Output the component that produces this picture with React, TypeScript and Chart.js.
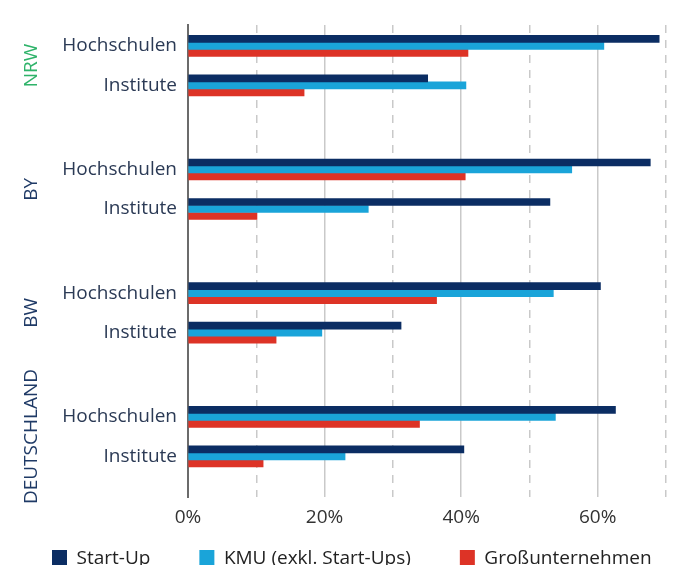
import React, { useEffect, useRef } from "react";
import { Chart, registerables } from "chart.js";

Chart.register(...registerables);

const groups = ["NRW", "BY", "BW", "DEUTSCHLAND"];
const subCategories = ["Hochschulen", "Institute"];
const seriesNames = ["Start-Up", "KMU (exkl. Start-Ups)", "Großunternehmen"];

// values per group: [Hochschulen, Institute]
const startUp = [69.0, 35.1, 67.7, 53.0, 60.4, 31.2, 62.6, 40.4];
const kmu = [60.9, 40.7, 56.2, 26.4, 53.5, 19.6, 53.8, 23.0];
const grossunternehmen = [41.0, 17.0, 40.6, 10.1, 36.4, 12.9, 33.9, 11.0];

const xTicks = [0, 10, 20, 30, 40, 50, 60, 70];

const GROUP_SPAN = 3.13;
const FONT = "'Open Sans', sans-serif";
const TEXT = "#2b3a55";
const seriesColors = ["#0b2d63", "#1aa4d9", "#dd3326"];
const groupColors = ["#2fb36a", "#1f3a66", "#1f3a66", "#1f3a66"];

function rowPos(i: number) {
  const g = Math.floor(i / subCategories.length);
  const s = i % subCategories.length;
  return g * GROUP_SPAN + s;
}

const rowLabels = groups.flatMap(() => subCategories);

const groupLabelPlugin = {
  id: "groupLabels",
  afterDraw(chart: any) {
    const { ctx, scales } = chart;
    const y = scales.y;
    ctx.save();
    ctx.font = `19px ${FONT}`;
    ctx.textAlign = "center";
    ctx.textBaseline = "middle";
    groups.forEach((g, gi) => {
      const p0 = y.getPixelForValue(rowPos(gi * 2));
      const p1 = y.getPixelForValue(rowPos(gi * 2 + 1));
      const cy = (p0 + p1) / 2;
      ctx.save();
      ctx.translate(24, cy);
      ctx.rotate(-Math.PI / 2);
      ctx.fillStyle = groupColors[gi];
      ctx.fillText(g, 0, 0);
      ctx.restore();
    });
    ctx.restore();
  },
};

const legendPlugin = {
  id: "customLegend",
  afterDraw(chart: any) {
    const { ctx } = chart;
    ctx.save();
    ctx.font = `19px ${FONT}`;
    ctx.textAlign = "left";
    ctx.textBaseline = "middle";
    const cy = 549.5;
    let x = 44;
    chart.data.datasets.forEach((ds: any) => {
      ctx.fillStyle = ds.backgroundColor;
      ctx.fillRect(x, cy - 7.5, 15, 15);
      ctx.fillStyle = "#222";
      ctx.fillText(ds.label, x + 24.5, cy + 1);
      x += 24.5 + ctx.measureText(ds.label).width + 49;
    });
    ctx.restore();
  },
};

export default function App() {
  const ref = useRef<HTMLCanvasElement | null>(null);
  useEffect(() => {
    const toPts = (arr: number[]) => arr.map((v, i) => ({ x: v, y: rowPos(i) }));
    const chart = new Chart(ref.current!, {
      type: "bar",
      data: {
        datasets: [
          { label: seriesNames[0], data: toPts(startUp), backgroundColor: seriesColors[0] },
          { label: seriesNames[1], data: toPts(kmu), backgroundColor: seriesColors[1] },
          { label: seriesNames[2], data: toPts(grossunternehmen), backgroundColor: seriesColors[2] },
        ] as any,
      },
      options: {
        indexAxis: "y",
        animation: false,
        responsive: true,
        maintainAspectRatio: false,
        datasets: { bar: { barThickness: 7, grouped: true } } as any,
        layout: { padding: { top: 17, right: 4, left: 0, bottom: 38 } },
        plugins: {
          legend: { display: false },
          tooltip: { enabled: false },
        },
        scales: {
          x: {
            type: "linear",
            min: 0,
            max: 70,
            afterBuildTicks: (s: any) => {
              s.ticks = xTicks.map((v) => ({ value: v }));
            },
            ticks: {
              color: "#333",
              padding: 9,
              maxRotation: 0,
              font: { family: FONT, size: 19 },
              callback: (v: any) => (Number(v) % 20 === 0 ? `${v}%` : ""),
            },
            grid: {
              color: (c: any) => (c.tick && c.tick.value === 0 ? "rgba(0,0,0,0)" : "#c9c9c9"),
              lineWidth: 1.5,
              drawTicks: false,
            },
            border: {
              display: false,
              dash: (c: any) => (c.tick && c.tick.value % 20 !== 0 ? [8, 7] : []),
            } as any,
            afterFit: (s: any) => {
              s.height = 30;
            },
          },
          y: {
            type: "linear",
            reverse: true,
            offset: false,
            min: -0.527,
            max: 3 * GROUP_SPAN + 1 + 1.03,
            afterBuildTicks: (s: any) => {
              s.ticks = rowLabels.map((_, i) => ({ value: rowPos(i) }));
            },
            ticks: {
              autoSkip: false,
              color: TEXT,
              padding: 11,
              font: { family: FONT, size: 19, lineHeight: 0.5 },
              callback: (_v: any, i: number) => rowLabels[i],
            },
            grid: { display: false, drawTicks: false },
            border: { display: true, color: "#6b6b6b", width: 2 },
            afterFit: (s: any) => {
              s.width = 180;
            },
          },
        },
      },
      plugins: [groupLabelPlugin, legendPlugin],
    });
    return () => chart.destroy();
  }, []);
  return (
    <div style={{ position: "relative", width: "100%", height: 557 }}>
      <canvas ref={ref} />
    </div>
  );
}
